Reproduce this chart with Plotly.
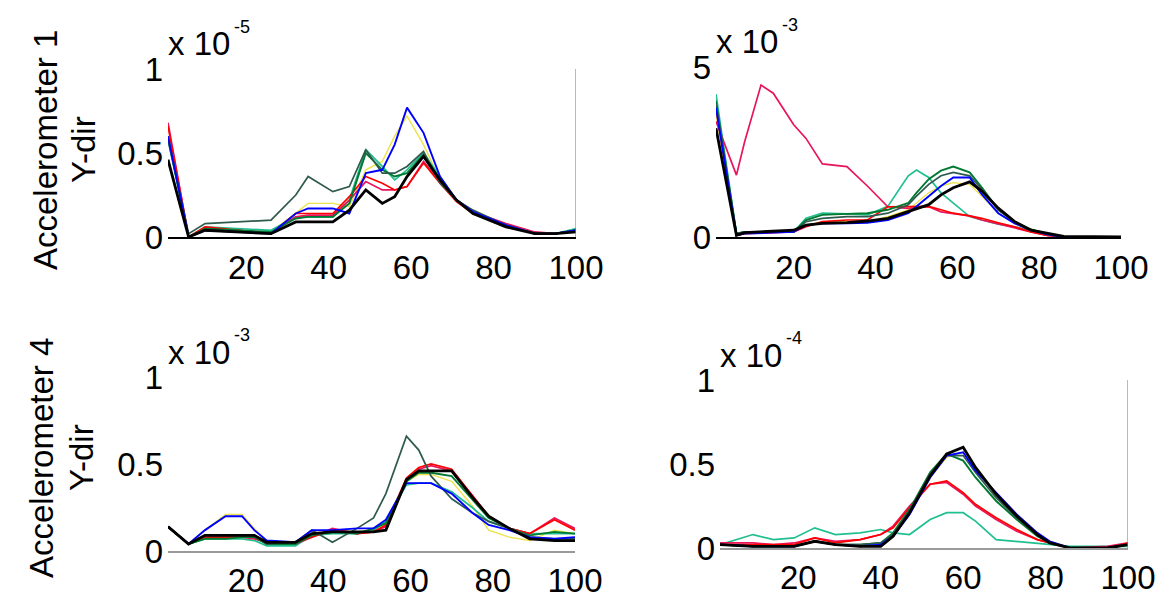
import plotly.graph_objects as go

W, H = 1173, 598

# ---------------- data ----------------
x_ticks = [20, 40, 60, 80, 100]

# Panel A: Accelerometer 1, left (x 1e-5)
XA = [1, 6, 10, 18, 26, 32, 35, 41, 45, 49, 53, 56, 59, 63, 67, 71, 75, 83, 90, 95, 100]
A_yellow = [0.60, 0.00, 0.04, 0.03, 0.03, 0.14, 0.20, 0.20, 0.18, 0.40, 0.45, 0.60, 0.72, 0.55, 0.34, 0.22, 0.14, 0.07, 0.02, 0.02, 0.03]
A_teal = [0.58, 0.00, 0.06, 0.05, 0.04, 0.12, 0.12, 0.12, 0.22, 0.52, 0.42, 0.34, 0.40, 0.50, 0.36, 0.22, 0.15, 0.07, 0.02, 0.02, 0.05]
A_crimson = [0.68, 0.00, 0.05, 0.04, 0.02, 0.12, 0.13, 0.13, 0.22, 0.33, 0.28, 0.28, 0.30, 0.45, 0.33, 0.22, 0.15, 0.08, 0.03, 0.02, 0.04]
A_red = [0.66, 0.00, 0.06, 0.04, 0.02, 0.14, 0.14, 0.14, 0.24, 0.36, 0.32, 0.28, 0.30, 0.44, 0.32, 0.21, 0.14, 0.07, 0.02, 0.02, 0.04]
A_green = [0.60, 0.00, 0.05, 0.04, 0.03, 0.11, 0.12, 0.12, 0.20, 0.50, 0.40, 0.36, 0.38, 0.49, 0.34, 0.22, 0.15, 0.07, 0.02, 0.02, 0.04]
A_slate = [0.58, 0.02, 0.08, 0.09, 0.10, 0.25, 0.36, 0.27, 0.30, 0.52, 0.38, 0.38, 0.42, 0.51, 0.32, 0.22, 0.16, 0.07, 0.02, 0.02, 0.04]
A_blue = [0.60, 0.00, 0.04, 0.03, 0.02, 0.14, 0.17, 0.17, 0.14, 0.38, 0.40, 0.55, 0.77, 0.62, 0.36, 0.22, 0.15, 0.07, 0.02, 0.02, 0.04]
A_black = [0.46, 0.00, 0.04, 0.03, 0.02, 0.09, 0.09, 0.09, 0.16, 0.28, 0.20, 0.24, 0.36, 0.48, 0.34, 0.22, 0.14, 0.06, 0.02, 0.02, 0.03]

# Panel B: Accelerometer 1, right (x 1e-3)
XB = [1, 6, 8, 12, 15, 20, 23, 27, 33, 38, 43, 48, 50, 53, 56, 59, 63, 66, 70, 74, 78, 82, 86, 100]
B_yellow = [3.6, 0.05, 0.10, 0.12, 0.12, 0.15, 0.35, 0.45, 0.45, 0.45, 0.60, 0.80, 1.00, 1.30, 1.50, 1.60, 1.55, 1.20, 0.70, 0.40, 0.20, 0.08, 0.0, 0.0]
B_teal = [4.2, 0.10, 0.15, 0.15, 0.15, 0.15, 0.55, 0.70, 0.68, 0.65, 0.90, 1.80, 1.97, 1.75, 1.30, 1.00, 0.60, 0.50, 0.38, 0.30, 0.18, 0.08, 0.0, 0.0]
B_crimson = [3.4, 1.82, 2.80, 4.47, 4.23, 3.30, 2.90, 2.15, 2.07, 1.50, 0.89, 0.84, 0.86, 0.89, 0.74, 0.68, 0.62, 0.50, 0.38, 0.28, 0.15, 0.05, 0.0, 0.0]
B_red = [3.8, 0.05, 0.10, 0.12, 0.12, 0.15, 0.30, 0.45, 0.50, 0.50, 0.89, 0.90, 0.90, 0.90, 0.80, 0.70, 0.62, 0.55, 0.42, 0.30, 0.15, 0.05, 0.0, 0.0]
B_green = [4.0, 0.10, 0.15, 0.15, 0.15, 0.15, 0.50, 0.65, 0.68, 0.70, 0.80, 1.00, 1.30, 1.70, 1.95, 2.07, 1.90, 1.45, 0.80, 0.45, 0.22, 0.08, 0.0, 0.0]
B_slate = [3.9, 0.10, 0.15, 0.15, 0.15, 0.15, 0.45, 0.55, 0.60, 0.60, 0.70, 0.95, 1.20, 1.55, 1.80, 1.90, 1.80, 1.40, 0.80, 0.45, 0.22, 0.08, 0.0, 0.0]
B_blue = [3.8, 0.05, 0.10, 0.12, 0.12, 0.15, 0.35, 0.40, 0.40, 0.42, 0.50, 0.70, 0.90, 1.20, 1.50, 1.75, 1.75, 1.25, 0.70, 0.40, 0.20, 0.08, 0.0, 0.0]
B_black = [3.2, 0.05, 0.13, 0.15, 0.17, 0.20, 0.35, 0.40, 0.42, 0.47, 0.55, 0.75, 0.85, 0.95, 1.24, 1.45, 1.62, 1.35, 0.85, 0.45, 0.20, 0.10, 0.02, 0.0]

# Panel C: Accelerometer 4, left (x 1e-3)
XC = [1, 6, 10, 15, 19, 22, 25, 32, 36, 41, 47, 51, 54, 59, 62, 65, 70, 75, 79, 84, 89, 95, 100]
C_yellow = [0.14, 0.04, 0.12, 0.21, 0.21, 0.13, 0.06, 0.05, 0.10, 0.10, 0.11, 0.12, 0.15, 0.40, 0.44, 0.44, 0.40, 0.26, 0.12, 0.08, 0.06, 0.12, 0.10]
C_teal = [0.14, 0.04, 0.07, 0.07, 0.07, 0.06, 0.03, 0.03, 0.09, 0.10, 0.10, 0.12, 0.17, 0.38, 0.39, 0.39, 0.34, 0.25, 0.17, 0.13, 0.10, 0.10, 0.10]
C_crimson = [0.14, 0.04, 0.08, 0.08, 0.08, 0.07, 0.05, 0.04, 0.08, 0.13, 0.10, 0.11, 0.14, 0.40, 0.47, 0.49, 0.46, 0.32, 0.20, 0.13, 0.10, 0.19, 0.13]
C_red = [0.14, 0.04, 0.08, 0.08, 0.08, 0.08, 0.05, 0.05, 0.08, 0.12, 0.10, 0.11, 0.15, 0.42, 0.48, 0.50, 0.47, 0.32, 0.20, 0.13, 0.10, 0.18, 0.12]
C_green = [0.14, 0.04, 0.07, 0.07, 0.08, 0.08, 0.04, 0.04, 0.09, 0.11, 0.10, 0.13, 0.16, 0.40, 0.45, 0.45, 0.43, 0.30, 0.19, 0.13, 0.09, 0.11, 0.10]
C_slate = [0.14, 0.04, 0.09, 0.09, 0.09, 0.09, 0.04, 0.05, 0.12, 0.05, 0.13, 0.19, 0.33, 0.66, 0.58, 0.43, 0.30, 0.22, 0.17, 0.13, 0.08, 0.07, 0.07]
C_blue = [0.14, 0.04, 0.12, 0.20, 0.20, 0.12, 0.06, 0.05, 0.12, 0.12, 0.13, 0.13, 0.18, 0.39, 0.39, 0.39, 0.33, 0.22, 0.15, 0.12, 0.08, 0.07, 0.08]
C_black = [0.14, 0.04, 0.09, 0.09, 0.09, 0.09, 0.05, 0.05, 0.10, 0.11, 0.11, 0.11, 0.12, 0.41, 0.46, 0.46, 0.46, 0.31, 0.20, 0.13, 0.07, 0.06, 0.06]

# Panel D: Accelerometer 4, right (x 1e-4)
XD = [1, 9, 14, 19, 24, 29, 35, 40, 43, 47, 52, 56, 60, 63, 68, 73, 78, 81, 86, 95, 100]
D_yellow = [0.02, 0.01, 0.01, 0.01, 0.04, 0.02, 0.02, 0.03, 0.08, 0.21, 0.42, 0.54, 0.57, 0.47, 0.33, 0.20, 0.09, 0.04, 0.0, 0.0, 0.02]
D_teal = [0.02, 0.08, 0.05, 0.06, 0.12, 0.08, 0.09, 0.11, 0.09, 0.08, 0.17, 0.21, 0.21, 0.16, 0.05, 0.04, 0.03, 0.02, 0.01, 0.01, 0.01]
D_crimson = [0.03, 0.03, 0.02, 0.03, 0.06, 0.04, 0.05, 0.08, 0.13, 0.25, 0.38, 0.39, 0.32, 0.25, 0.17, 0.10, 0.05, 0.03, 0.0, 0.01, 0.03]
D_red = [0.02, 0.02, 0.02, 0.02, 0.06, 0.03, 0.05, 0.08, 0.12, 0.24, 0.38, 0.40, 0.33, 0.26, 0.18, 0.11, 0.05, 0.03, 0.0, 0.0, 0.03]
D_green = [0.02, 0.01, 0.01, 0.01, 0.04, 0.02, 0.02, 0.03, 0.09, 0.23, 0.45, 0.56, 0.52, 0.42, 0.28, 0.17, 0.07, 0.03, 0.0, 0.0, 0.02]
D_slate = [0.02, 0.01, 0.01, 0.01, 0.04, 0.02, 0.02, 0.03, 0.08, 0.22, 0.44, 0.55, 0.55, 0.45, 0.30, 0.18, 0.08, 0.03, 0.0, 0.0, 0.02]
D_blue = [0.02, 0.01, 0.01, 0.01, 0.04, 0.02, 0.01, 0.02, 0.07, 0.20, 0.42, 0.55, 0.57, 0.46, 0.33, 0.20, 0.09, 0.04, 0.0, 0.0, 0.02]
D_black = [0.02, 0.01, 0.01, 0.01, 0.04, 0.02, 0.01, 0.01, 0.07, 0.21, 0.43, 0.56, 0.60, 0.48, 0.32, 0.19, 0.08, 0.03, 0.0, 0.0, 0.02]

series_names = ["yellow", "teal", "crimson", "red", "green", "slate", "blue", "black"]
colors = {"yellow": "#ece34a", "teal": "#20bf90", "crimson": "#e8145c", "red": "#ff0000",
          "green": "#007a30", "slate": "#2f5a4e", "blue": "#0000ff", "black": "#000000"}
widths = {"yellow": 1.4, "teal": 1.7, "crimson": 1.7, "red": 1.7, "green": 1.9,
          "slate": 1.7, "blue": 1.9, "black": 2.8}

panels = [
    dict(x=XA, data=[A_yellow, A_teal, A_crimson, A_red, A_green, A_slate, A_blue, A_black],
         yrange=[0, 1], yticks=[0, 0.5, 1], yticktext=["0", "0.5", "1"], exp="-5",
         px=(168, 576), py=(69, 237), axis_color="#000000", right_line=True),
    dict(x=XB, data=[B_yellow, B_teal, B_crimson, B_red, B_green, B_slate, B_blue, B_black],
         yrange=[0, 5], yticks=[0, 5], yticktext=["0", "5"], exp="-3",
         px=(716, 1121), py=(67, 237), axis_color="#000000", right_line=False),
    dict(x=XC, data=[C_yellow, C_teal, C_crimson, C_red, C_green, C_slate, C_blue, C_black],
         yrange=[0, 1], yticks=[0, 0.5, 1], yticktext=["0", "0.5", "1"], exp="-3",
         px=(168, 575), py=(377, 551), axis_color="#9a9a9a", right_line=False),
    dict(x=XD, data=[D_yellow, D_teal, D_crimson, D_red, D_green, D_slate, D_blue, D_black],
         yrange=[0, 1], yticks=[0, 0.5, 1], yticktext=["0", "0.5", "1"], exp="-4",
         px=(720, 1128), py=(380, 548), axis_color="#9a9a9a", right_line=True),
]

FONT = "Liberation Sans, Arial, sans-serif"
FS = 33
fig = go.Figure()
layout = dict(width=W, height=H, margin=dict(l=0, r=0, t=0, b=0, autoexpand=False),
              paper_bgcolor="white", plot_bgcolor="white", showlegend=False,
              font=dict(family=FONT, color="black", size=FS))
annotations = []
shapes = []

for i, p in enumerate(panels):
    k = i + 1
    xa = "xaxis" if k == 1 else f"xaxis{k}"
    ya = "yaxis" if k == 1 else f"yaxis{k}"
    xr = "x" if k == 1 else f"x{k}"
    yr = "y" if k == 1 else f"y{k}"
    for name, vals in zip(series_names, p["data"]):
        fig.add_trace(go.Scatter(x=p["x"], y=vals, mode="lines", xaxis=xr, yaxis=yr,
                                 line=dict(color=colors[name], width=widths[name]),
                                 hoverinfo="skip"))
    layout[xa] = dict(domain=[p["px"][0] / W, p["px"][1] / W], anchor=yr, automargin=False,
                      range=[1, 100], tickvals=x_ticks, ticks="", showgrid=False,
                      zeroline=False, showline=True, linecolor=p["axis_color"],
                      linewidth=2.2 if p["axis_color"] == "#000000" else 1.5,
                      ticklabelstandoff=0, tickfont=dict(size=FS, family=FONT))
    layout[ya] = dict(domain=[1 - p["py"][1] / H, 1 - p["py"][0] / H], anchor=xr,
                      automargin=False,
                      range=p["yrange"], tickvals=p["yticks"], ticktext=p["yticktext"],
                      ticks="", showgrid=False, zeroline=False, showline=False,
                      ticklabelstandoff=4, tickfont=dict(size=FS, family=FONT))
    if p["right_line"]:
        shapes.append(dict(type="line", xref=xr, yref=f"{yr} domain", x0=100, x1=100,
                           y0=0, y1=1, line=dict(color="#8a8a8a", width=1.2)))
    # multiplier label
    top = p["py"][0]
    annotations.append(dict(text="x 10", xref="paper", yref="paper",
                            x=(p["px"][0] - 2) / W, y=1 - (top - 25) / H,
                            xanchor="left", yanchor="middle", showarrow=False,
                            font=dict(size=FS, family=FONT)))
    annotations.append(dict(text=p["exp"], xref="paper", yref="paper",
                            x=(p["px"][0] + 64) / W, y=1 - (top - 42) / H,
                            xanchor="left", yanchor="middle", showarrow=False,
                            font=dict(size=18, family=FONT)))

# row titles
for label, cx1, cx2, cy in [("Accelerometer 1", 45, 83, 150), ("Accelerometer 4", 41, 81, 458)]:
    annotations.append(dict(text=label, xref="paper", yref="paper", x=cx1 / W, y=1 - cy / H,
                            xanchor="center", yanchor="middle", textangle=-90, showarrow=False,
                            font=dict(size=FS, family=FONT)))
    annotations.append(dict(text="Y-dir", xref="paper", yref="paper", x=cx2 / W, y=1 - cy / H,
                            xanchor="center", yanchor="middle", textangle=-90, showarrow=False,
                            font=dict(size=FS, family=FONT)))

layout["annotations"] = annotations
layout["shapes"] = shapes
fig.update_layout(**layout)
fig.write_html("out.html", config={"displayModeBar": False},
               post_script="document.body.style.margin='0px';document.body.style.overflow='hidden';")
